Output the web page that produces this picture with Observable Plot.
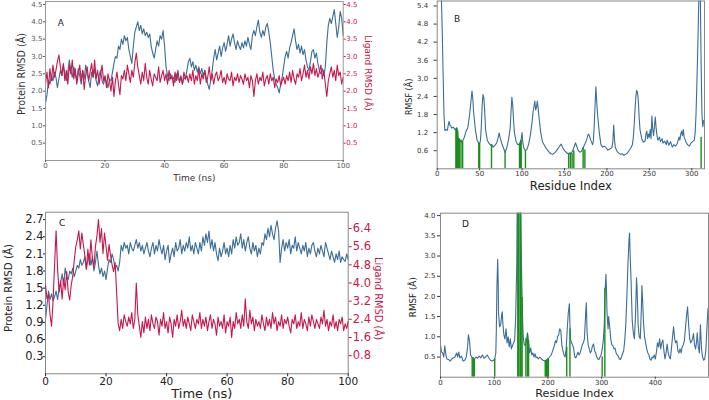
<!DOCTYPE html>
<html><head><meta charset="utf-8">
<script src="https://cdn.jsdelivr.net/npm/d3@7"></script>
<script src="https://cdn.jsdelivr.net/npm/@observablehq/plot@0.6"></script>
<style>
body{margin:0;background:#fff;}
#wrap{position:relative;width:709px;height:400px;overflow:hidden;background:#fff;}
.p{position:absolute;}
.p svg{overflow:visible;}
</style></head><body><div id="wrap"></div>
<script>
// ---------- data ----------
const dt = 0.5; // ns between samples
const protA = [
1.65,1.9,2.3,2.2,2.45,2.3,2.55,2.4,2.1,2.35,2.6,2.45,2.75,2.5,2.3,2.55,2.9,2.6,2.4,2.7,2.5,
2.3,2.65,2.45,2.2,2.6,2.35,2.75,2.5,2.3,2.1,2.55,2.4,2.65,2.3,2.15,2.45,2.6,2.3,2.2,2.4,
2.25,2.1,2.35,2.3,2.55,2.8,3.0,2.95,3.3,3.2,3.5,3.35,3.6,3.45,3.55,3.2,3.0,2.8,3.3,3.7,
3.85,4.0,3.75,3.9,3.65,3.8,3.6,3.7,3.55,3.65,3.3,3.1,2.95,3.2,3.45,3.3,3.6,3.5,3.75,3.3,
2.7,2.45,2.3,2.5,2.35,2.4,2.25,2.5,2.35,2.3,2.45,2.2,2.4,2.35,2.6,2.85,2.95,2.7,2.85,2.6,
2.75,2.55,2.7,2.5,2.65,2.45,2.6,2.4,2.2,2.05,2.3,2.6,2.95,3.2,2.9,3.1,3.3,3.0,3.25,3.4,
3.15,3.35,3.6,3.3,3.5,3.65,3.4,3.2,3.45,3.3,3.2,3.4,3.25,3.45,3.3,3.55,3.35,3.2,3.6,3.75,
3.6,3.85,4.05,3.7,3.55,3.75,3.6,3.85,3.95,3.7,3.4,3.0,2.6,2.35,2.2,2.1,1.95,2.2,2.4,2.7,
3.0,3.15,2.95,3.25,3.4,3.6,3.8,3.45,3.2,3.35,3.1,3.3,3.05,3.2,2.9,2.7,2.6,2.85,3.15,3.2,
2.95,3.1,2.8,2.6,2.5,2.65,2.45,2.7,3.4,3.9,4.1,3.95,4.15,4.35,3.95,3.55,3.85,4.3,4.1,3.6];
const ligA = [
2.2,2.55,2.1,2.65,2.3,2.75,2.4,2.6,2.85,3.05,2.7,2.45,2.8,2.3,2.6,2.2,2.75,2.5,2.9,2.35,2.65,
2.2,2.5,2.75,2.3,2.6,2.05,2.45,2.7,2.3,2.55,2.8,2.4,2.9,2.35,2.6,2.2,2.5,2.75,2.3,2.45,
2.1,2.5,2.3,2.0,2.4,1.85,2.3,2.55,2.2,1.9,2.45,2.35,2.6,2.3,2.75,2.5,2.25,2.6,2.4,2.8,
3.1,2.7,2.45,2.2,2.55,2.3,2.8,2.4,2.2,2.6,2.35,2.15,2.5,2.4,2.3,2.7,2.25,2.45,2.6,2.3,
2.5,2.2,2.6,2.35,2.45,2.15,2.55,2.3,2.6,2.25,2.4,2.2,2.55,2.35,2.45,2.25,2.5,2.3,2.6,2.2,
2.45,2.3,2.65,2.2,2.5,2.35,2.6,2.25,2.4,2.7,2.3,2.5,2.2,2.45,2.55,2.3,2.4,2.6,2.25,2.4,
2.2,2.5,2.35,2.3,2.55,2.15,2.4,2.3,2.5,2.25,2.45,2.35,2.2,2.5,2.3,2.4,2.1,2.45,2.3,1.85,
2.3,2.5,2.2,2.4,2.3,2.55,2.15,2.35,2.45,2.2,2.5,2.3,2.4,2.1,2.35,2.25,2.45,2.15,2.3,2.4,
2.2,2.45,2.3,2.55,2.25,2.6,2.35,2.2,2.5,2.4,2.65,2.3,2.5,2.75,2.4,2.6,2.35,2.7,2.5,2.8,
2.45,2.65,2.4,2.55,2.75,2.35,2.6,2.2,1.85,2.3,2.5,2.7,2.4,2.6,2.3,2.75,2.45,2.55,2.2,2.4];
const protC = [
0.95,1.2,1.45,1.3,1.4,1.28,1.35,1.45,1.3,1.5,1.6,1.75,1.55,1.85,1.7,1.65,1.8,1.75,1.85,1.7,1.8,
1.9,1.85,2.0,1.9,1.95,2.05,1.85,2.0,2.1,1.9,2.05,1.8,1.95,2.15,1.9,1.75,1.85,1.7,1.8,1.65,
1.85,2.0,1.95,2.1,2.0,1.85,1.9,1.8,1.95,2.25,2.15,2.3,2.2,2.25,2.1,2.3,2.2,2.15,2.25,2.35,
2.2,2.3,2.15,2.25,2.1,2.2,2.3,2.15,2.05,2.2,2.3,2.1,2.25,2.15,2.35,2.2,2.1,2.25,2.0,2.15,
2.25,1.95,2.1,2.2,2.05,2.3,2.15,2.2,2.35,2.1,2.25,2.15,2.3,2.2,2.4,2.15,2.25,2.1,2.3,2.2,
2.1,2.3,2.15,2.4,2.25,2.45,2.3,2.5,2.2,2.35,2.15,2.3,2.1,1.98,2.2,2.05,2.15,2.3,2.1,2.2,
2.05,2.25,2.1,2.35,2.2,2.4,2.25,2.3,2.45,2.2,2.35,2.15,2.3,2.4,2.2,2.1,2.3,2.15,2.25,2.05,
2.2,2.1,2.3,2.25,2.45,2.35,2.55,2.4,2.6,2.45,2.35,2.55,2.68,2.5,1.95,2.2,2.35,2.15,2.3,2.2,
2.35,2.1,2.25,2.2,2.4,2.15,2.3,2.2,2.1,2.25,2.15,2.3,2.05,2.2,2.1,2.25,2.3,2.15,2.05,2.2,
2.1,2.25,2.15,2.05,2.3,2.2,2.1,2.0,2.15,2.05,1.95,2.1,2.0,2.15,1.95,2.05,2.0,1.97,2.1,2.0];
const ligC = [
3.9,3.3,3.5,2.6,2.1,3.2,4.8,6.3,4.6,3.6,4.1,3.3,4.2,3.7,4.5,3.6,3.25,3.9,4.3,5.0,5.6,
5.9,6.3,5.5,6.2,5.7,5.2,4.6,5.5,4.8,5.9,5.1,4.7,5.6,6.1,6.8,5.8,6.4,5.3,6.2,5.6,
5.0,5.7,5.2,4.8,4.5,4.9,3.6,2.2,1.9,2.4,2.0,2.6,2.3,2.1,2.5,2.2,2.7,2.0,2.4,4.0,
2.6,2.1,1.6,2.3,1.8,2.5,2.0,2.4,1.9,2.6,2.2,2.0,2.5,2.3,1.7,2.4,2.1,2.7,2.0,2.3,
1.8,2.5,2.2,1.6,2.4,2.1,2.6,2.0,2.3,2.8,2.1,2.4,2.0,2.5,2.2,1.9,2.6,2.3,2.0,2.4,
2.2,2.7,2.0,2.4,2.1,2.5,1.9,2.3,2.6,2.0,2.4,2.2,1.7,2.5,2.1,2.3,2.0,2.6,1.8,2.3,
2.1,2.5,1.6,2.3,2.0,2.7,2.2,2.4,2.0,2.6,2.1,3.3,2.3,2.0,2.8,2.2,2.5,1.9,2.4,2.1,
2.3,2.0,2.6,2.2,1.9,2.5,2.1,2.4,2.0,2.7,2.2,2.5,1.9,2.3,2.1,2.6,2.0,2.4,2.2,2.5,
2.1,1.8,2.4,2.2,2.6,2.0,2.3,2.1,2.7,2.0,2.4,2.2,1.9,2.5,2.1,2.6,2.3,2.0,2.4,2.2,
2.0,2.5,2.2,2.8,2.1,2.4,1.9,2.3,2.1,2.6,2.0,2.3,1.9,2.4,2.2,2.5,1.9,2.2,2.0,2.3];
// [residue, RMSF]
const rmsfB = [[1,7.5],[3,6.8],[5,5.6],[6,4.5],[7,3.1],[8,1.8],[9,1.27],[11,1.3],[12,1.28],[13,1.45],[14,1.57],[15,1.45],[16,1.42],[17,1.35],[19,1.38],[21,1.3],[22,1.33],[23,1.35],[24,1.25],[25,0.95],[26,1.0],[27,0.9],[28,0.95],[29,0.88],[30,0.92],[32,1.05],[34,1.25],[36,1.35],[38,1.75],[40,2.3],[41,2.58],[42,2.3],[43,1.85],[45,1.3],[47,0.95],[49,0.85],[50,0.82],[51,0.95],[52,1.4],[53,2.1],[54,2.46],[55,2.35],[56,1.9],[57,1.3],[59,0.95],[61,0.85],[63,0.78],[64,0.8],[66,0.72],[68,0.78],[70,0.85],[72,1.05],[73,1.19],[74,1.05],[76,0.85],[78,0.7],[80,0.55],[82,0.7],[84,0.95],[86,1.35],[87,1.9],[88,2.37],[89,2.1],[90,1.6],[91,1.2],[93,0.9],[95,0.8],[97,0.82],[98,0.88],[99,1.0],[100,1.2],[101,0.85],[102,0.7],[104,0.6],[106,0.65],[108,0.85],[110,1.15],[112,1.6],[113,1.9],[114,2.05],[115,2.25],[116,1.95],[117,2.05],[118,2.25],[119,2.0],[120,1.7],[122,1.2],[124,0.9],[126,0.8],[128,0.7],[130,0.62],[132,0.55],[134,0.5],[136,0.48],[138,0.52],[140,0.58],[142,0.66],[144,0.74],[146,0.82],[148,0.7],[150,0.6],[152,0.55],[154,0.5],[156,0.52],[158,0.5],[160,0.62],[162,0.78],[163,0.86],[164,0.78],[166,0.62],[168,0.55],[170,0.58],[172,0.7],[174,0.82],[176,0.95],[178,1.15],[179,1.12],[181,0.95],[183,0.8],[184,0.9],[185,1.4],[186,2.1],[187,2.72],[188,2.2],[189,1.8],[190,1.5],[191,1.2],[193,0.8],[195,0.72],[197,0.75],[199,0.7],[201,0.62],[203,0.65],[205,0.68],[206,0.72],[207,0.9],[208,1.45],[209,0.95],[210,0.7],[212,0.58],[214,0.52],[216,0.48],[218,0.5],[220,0.45],[222,0.48],[224,0.52],[226,0.6],[228,0.68],[230,0.8],[231,1.0],[232,1.4],[233,1.9],[234,2.35],[235,2.6],[236,2.55],[237,2.25],[238,1.7],[239,1.3],[241,1.0],[243,0.88],[245,0.92],[246,1.15],[247,1.25],[248,1.0],[249,1.15],[250,1.05],[251,1.3],[252,1.0],[253,1.75],[254,1.3],[255,1.1],[256,1.4],[257,1.72],[258,1.35],[259,1.1],[260,0.95],[262,1.05],[263,0.9],[265,1.0],[266,0.85],[268,0.92],[270,0.8],[271,0.95],[273,0.78],[275,0.9],[277,0.72],[279,0.8],[281,0.75],[283,0.85],[285,1.05],[286,0.95],[287,1.15],[288,1.25],[289,1.1],[290,1.3],[291,1.05],[293,0.9],[295,0.8],[297,0.75],[299,0.85],[301,0.9],[303,0.95],[304,1.2],[305,1.8],[306,2.8],[307,3.9],[308,5.2],[309,6.5],[310,6.0],[311,3.5],[312,1.8],[313,1.4],[314,1.6]];
const contactsB = [[22,1.3],[23,1.35],[24,1.25],[25,0.95],[26,1.0],[28,0.95],[30,0.9],[49,0.85],[50,0.82],[64,0.8],[80,0.55],[97,0.82],[98,0.88],[99,0.95],[104,0.6],[155,0.5],[157,0.52],[159,0.5],[161,0.6],[172,0.7],[174,0.62],[311,1.05]];
const rmsfD = [[0,0.8],[2,0.62],[4,0.6],[6,0.5],[8,0.78],[10,0.55],[12,0.45],[15,0.44],[18,0.4],[21,0.45],[24,0.48],[27,0.5],[30,0.6],[32,0.5],[34,0.62],[36,0.48],[39,0.52],[42,0.4],[45,0.42],[48,0.5],[50,0.7],[52,1.05],[54,0.9],[56,0.55],[58,0.5],[60,0.48],[63,0.44],[66,0.5],[69,0.47],[72,0.52],[75,0.48],[78,0.55],[81,0.47],[84,0.5],[87,0.55],[90,0.48],[93,0.42],[96,0.4],[99,0.42],[101,0.45],[103,0.6],[104,1.2],[105,2.2],[106.5,2.92],[107.5,2.3],[108,1.6],[110,1.25],[112,1.3],[114,1.55],[115,1.62],[116,1.35],[118,1.05],[120,0.95],[122,1.2],[124,0.85],[126,1.0],[128,0.75],[130,0.95],[132,0.7],[134,0.78],[136,0.85],[138,0.9],[140,1.5],[142,2.8],[143,4.5],[145,5.5],[147,5.2],[149,4.6],[150,3.6],[151,2.6],[152,1.9],[153,1.4],[154,1.0],[156,0.8],[158,0.78],[160,0.9],[162,1.1],[164,0.85],[166,0.6],[168,0.72],[170,0.55],[172,0.6],[174,0.5],[176,0.58],[178,0.48],[180,0.5],[182,0.45],[185,0.5],[188,0.45],[191,0.42],[194,0.4],[197,0.42],[200,0.45],[203,0.5],[206,0.55],[208,0.62],[210,0.7],[212,0.78],[214,0.9],[216,0.85],[218,1.0],[220,1.05],[222,1.2],[224,1.15],[226,0.8],[228,0.65],[230,0.55],[232,0.5],[234,0.7],[236,1.2],[238,1.6],[240,1.82],[241,1.3],[242,0.95],[244,0.85],[246,0.8],[248,0.7],[250,0.5],[252,0.48],[254,0.55],[256,0.62],[258,0.55],[260,0.6],[262,0.7],[264,0.8],[266,0.85],[268,0.95],[270,1.5],[271.5,1.84],[273,1.1],[275,0.8],[277,0.7],[279,0.6],[281,0.65],[283,0.78],[285,0.82],[287,0.65],[289,0.6],[291,0.5],[293,0.45],[295,0.44],[297,0.5],[299,0.55],[301,0.68],[303,0.9],[305,1.3],[306,2.0],[308,2.55],[309,2.2],[310,1.6],[312,1.2],[313,1.5],[315,1.25],[317,0.95],[319,0.8],[321,0.78],[323,0.7],[325,0.72],[327,0.6],[329,0.55],[331,0.52],[333,0.45],[335,0.44],[337,0.5],[339,0.58],[341,0.65],[343,0.9],[345,1.3],[347,2.0],[349,2.8],[351,3.4],[352,3.57],[353,3.1],[355,2.3],[357,1.4],[359,1.1],[361,0.95],[363,1.5],[365,2.46],[366,2.2],[368,1.3],[370,1.0],[372,0.95],[374,1.7],[375,2.27],[376,2.0],[378,1.35],[380,1.0],[382,0.85],[384,0.7],[386,0.6],[388,0.55],[390,0.45],[392,0.42],[394,0.5],[396,0.48],[398,0.55],[400,0.45],[402,0.62],[404,0.85],[406,0.75],[408,0.95],[410,0.7],[412,0.85],[414,0.92],[416,0.65],[418,0.45],[420,0.6],[422,0.82],[424,0.6],[426,0.5],[428,0.45],[430,0.7],[432,1.0],[434,1.25],[436,0.95],[438,0.85],[440,0.9],[442,0.65],[444,0.6],[446,0.7],[448,0.6],[450,0.75],[452,0.8],[454,0.9],[456,1.2],[458,1.5],[460,1.74],[462,1.3],[464,0.95],[466,0.85],[468,0.9],[470,1.0],[471,1.08],[473,0.8],[475,0.7],[477,0.9],[478,1.1],[480,0.75],[482,0.6],[484,1.3],[486,0.7],[488,0.5],[490,0.42],[492,0.45],[494,0.65],[496,1.2],[498,1.7]];
const contactsD = [[59,0.48],[61,0.48],[63,0.44],[101,0.45],[144,4.5],[145,4.5],[148,4.5],[149,4.5],[150,2.62],[152,1.97],[159,0.95],[162,1.05],[164,0.9],[195,0.4],[196,0.4],[197,0.42],[198,0.42],[199,0.42],[200,0.45],[201,0.45],[235,0.75],[241,1.2],[301,0.5],[306,2.2]];
// tick values
const timeTicks = [0,20,40,60,80,100];
const yTicksA = [0.5,1.0,1.5,2.0,2.5,3.0,3.5,4.0,4.5];
const yTicksCL = [0.3,0.6,0.9,1.2,1.5,1.8,2.1,2.4,2.7];
const yTicksCR = [0.8,1.6,2.4,3.2,4.0,4.8,5.6,6.4];
const xTicksB = [0,50,100,150,200,250,300];
const yTicksB = [0.6,1.2,1.8,2.4,3.0,3.6,4.2,4.8,5.4];
const xTicksD = [0,100,200,300,400];
const yTicksD = [0.5,1.0,1.5,2.0,2.5,3.0,3.5,4.0];

// ---------- drawing ----------
const BLUE = "#3a6d98", RED = "#c8184b", GREEN = "#1c8c1c";
const F = "DejaVu Sans, sans-serif";
const f1 = d3.format(".1f");
const wrap = document.getElementById("wrap");
function place(svg, left, top) {
  const d = document.createElement("div");
  d.className = "p"; d.style.left = left + "px"; d.style.top = top + "px";
  d.appendChild(svg); wrap.appendChild(d);
}
const st = {fontFamily: F, background: "transparent", overflow: "visible"};
const lbl = (s, o) => Plot.text([s], {text: d => d, textAnchor: "middle", lineAnchor: "middle", fontFamily: F, ...o});

// Panel A
const tsA = protA.map((v, i) => ({t: i * dt, prot: v, lig: ligA[i]}));
place(Plot.plot({
  width: 380, height: 200, marginLeft: 45, marginRight: 37.3, marginTop: 1, marginBottom: 40,
  style: st, x: {domain: [0, 100]}, y: {domain: [0, 4.586]},
  marks: [
    Plot.line(tsA, {x: "t", y: "prot", stroke: BLUE, strokeWidth: 1.1}),
    Plot.line(tsA, {x: "t", y: "lig", stroke: RED, strokeWidth: 1.1}),
    Plot.frame({stroke: "#999"}),
    Plot.axisX({ticks: timeTicks, tickFormat: d => String(d), tickSize: 2, tickPadding: 1, fontSize: 7, color: "#555", label: null}),
    Plot.axisY({ticks: yTicksA, tickFormat: f1, tickSize: 2, tickPadding: 1, fontSize: 7, color: "#555", label: null}),
    Plot.axisY({anchor: "right", ticks: yTicksA, tickFormat: f1, tickSize: 2, tickPadding: 1, fontSize: 7, color: RED, label: null}),
    lbl("Time (ns)", {frameAnchor: "bottom", dy: 18, fontSize: 9, fill: "#333"}),
    lbl("Protein RMSD (Å)", {frameAnchor: "left", dx: -24, dy: -7, rotate: -90, fontSize: 9.6, fill: "#333"}),
    lbl("Ligand RMSD (Å)", {frameAnchor: "right", dx: 25, dy: -8, rotate: 90, fontSize: 9, fill: RED}),
    lbl("A", {frameAnchor: "top-left", dx: 15.3, dy: 21.3, fontSize: 9, fill: "#222"})
  ]
}), 0, 0);

// Panel C (left scale)
const tsC = protC.map((v, i) => ({t: i * dt, prot: v, lig: ligC[i]}));
const cBox = {width: 400, height: 200, marginLeft: 45, marginRight: 52.3, marginTop: 11.7, marginBottom: 26.7, style: st};
place(Plot.plot({
  ...cBox, x: {domain: [0, 100]}, y: {domain: [0, 2.83]},
  marks: [
    Plot.line(tsC, {x: "t", y: "prot", stroke: BLUE, strokeWidth: 1.1}),
    Plot.frame({stroke: "#888"}),
    Plot.axisX({ticks: timeTicks, tickFormat: d => String(d), tickSize: 3, tickPadding: 0.5, fontSize: 10.5, color: "#222", label: null}),
    Plot.axisY({ticks: yTicksCL, tickFormat: f1, tickSize: 2, tickPadding: 0, fontSize: 11.5, color: "#222", label: null}),
    lbl("Time (ns)", {frameAnchor: "bottom", dx: 5, dy: 20.3, fontSize: 13, fill: "#222"}),
    lbl("Protein RMSD (Å)", {frameAnchor: "left", dx: -37, dy: -5, rotate: -90, fontSize: 10.3, fill: "#222"}),
    lbl("C", {frameAnchor: "top-left", dx: 16.7, dy: 10.6, fontSize: 9, fill: "#222"})
  ]
}), 0, 200);
// Panel C (right scale, ligand)
place(Plot.plot({
  ...cBox, x: {domain: [0, 100], axis: null}, y: {domain: [0, 7.12]},
  marks: [
    Plot.line(tsC, {x: "t", y: "lig", stroke: RED, strokeWidth: 1.1}),
    Plot.axisY({anchor: "right", ticks: yTicksCR, tickFormat: f1, tickSize: 3, tickPadding: 1.5, fontSize: 11.5, color: RED, label: null}),
    lbl("Ligand RMSD (Å)", {frameAnchor: "right", dx: 30, dy: 5.5, rotate: 90, fontSize: 9.9, fill: RED})
  ]
}), 0, 200);

// Panel B
place(Plot.plot({
  width: 349, height: 200, marginLeft: 76.7, marginRight: 5, marginTop: 0.5, marginBottom: 31.7,
  style: st, x: {domain: [0, 315]}, y: {domain: [0, 5.565]},
  marks: [
    Plot.line(rmsfB, {x: d => d[0], y: d => d[1], stroke: BLUE, strokeWidth: 1.1, clip: true}),
    Plot.ruleX(contactsB, {x: d => d[0], y1: 0, y2: d => d[1], stroke: GREEN, strokeWidth: 1.4, clip: true}),
    Plot.frame({stroke: "#888"}),
    Plot.axisX({ticks: xTicksB, tickFormat: d => String(d), tickSize: 2, tickPadding: 0, fontSize: 7, color: "#333", label: null}),
    Plot.axisY({ticks: yTicksB, tickFormat: f1, tickSize: 3, tickPadding: 6, fontSize: 7, color: "#333", label: null}),
    lbl("Residue Index", {frameAnchor: "bottom", dy: 17.4, fontSize: 11.7, fill: "#222"}),
    lbl("RMSF (Å)", {frameAnchor: "left", dx: -27.7, dy: 12, rotate: -90, fontSize: 8, fill: "#222"}),
    lbl("B", {frameAnchor: "top-left", dx: 20, dy: 18, fontSize: 9, fill: "#222"})
  ]
}), 360, 0);

// Panel D
place(Plot.plot({
  width: 349, height: 200, marginLeft: 80, marginRight: 1, marginTop: 12.7, marginBottom: 23.3,
  style: st, x: {domain: [0, 499]}, y: {domain: [0, 4.06]},
  marks: [
    Plot.line(rmsfD, {x: d => d[0], y: d => d[1], stroke: BLUE, strokeWidth: 1.1, clip: true}),
    Plot.ruleX(contactsD, {x: d => d[0], y1: 0, y2: d => d[1], stroke: GREEN, strokeWidth: 1.4, clip: true}),
    Plot.frame({stroke: "#888"}),
    Plot.axisX({ticks: xTicksD, tickFormat: d => String(d), tickSize: 2, tickPadding: 1, fontSize: 7, color: "#333", label: null}),
    Plot.axisY({ticks: yTicksD, tickFormat: f1, tickSize: 3, tickPadding: 2, fontSize: 7, color: "#333", label: null}),
    lbl("Residue Index", {frameAnchor: "bottom", dy: 16.3, fontSize: 11.2, fill: "#222"}),
    lbl("RMSF (Å)", {frameAnchor: "left", dx: -27, dy: 2, rotate: -90, fontSize: 8.8, fill: "#222"}),
    lbl("D", {frameAnchor: "top-left", dx: 25, dy: 10.5, fontSize: 9, fill: "#222"})
  ]
}), 360, 200);
</script></body></html>
